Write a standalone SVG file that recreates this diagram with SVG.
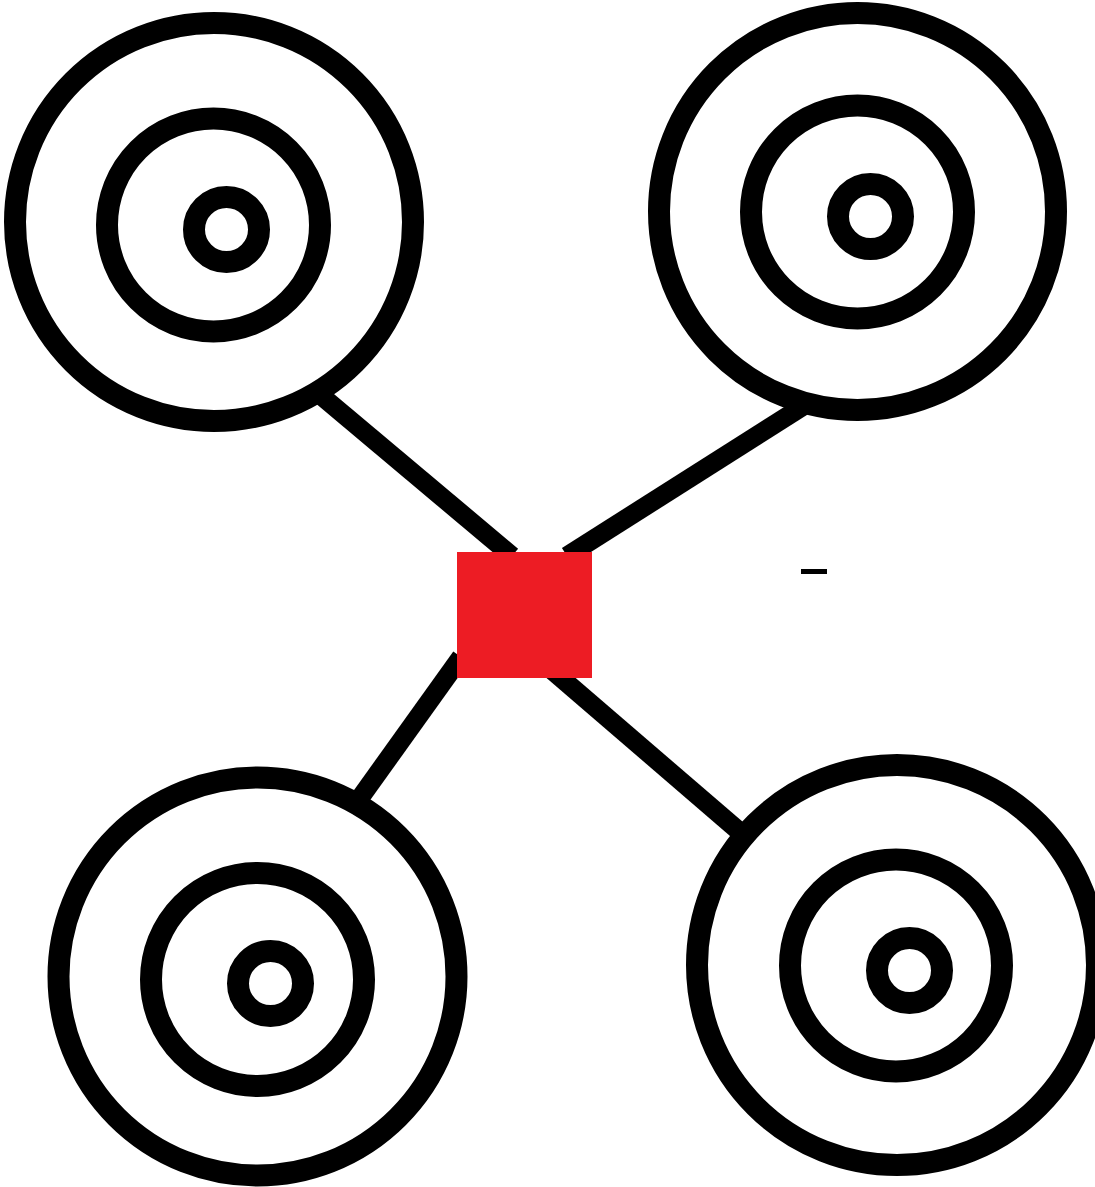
<svg xmlns="http://www.w3.org/2000/svg" width="1095" height="1187" viewBox="0 0 1095 1187">
  <style>
    .ring { fill: none; stroke: #000; stroke-width: 22; }
    .link { stroke: #000; stroke-width: 19; stroke-linecap: butt; fill: none; }
  </style>
  <rect x="0" y="0" width="1095" height="1187" fill="#fff"/>
  <g id="connectors">
    <line class="link" x1="318" y1="393" x2="512" y2="556"/>
    <line class="link" x1="805" y1="405" x2="567" y2="556"/>
    <line class="link" x1="461" y1="657" x2="360" y2="798"/>
    <line class="link" x1="546" y1="665" x2="740" y2="832"/>
  </g>
  <g id="node-top-left">
    <circle class="ring" cx="214" cy="222" r="199"/>
    <circle class="ring" cx="213.5" cy="225" r="106.5"/>
    <circle class="ring" cx="226.5" cy="229.5" r="32.5"/>
  </g>
  <g id="node-top-right">
    <circle class="ring" cx="857.5" cy="211.5" r="198.5"/>
    <circle class="ring" cx="857.5" cy="212" r="106.5"/>
    <circle class="ring" cx="870.5" cy="216.5" r="32.5"/>
  </g>
  <g id="node-bottom-left">
    <circle class="ring" cx="257.5" cy="976.5" r="199"/>
    <circle class="ring" cx="257.5" cy="979.5" r="106.5"/>
    <circle class="ring" cx="270.5" cy="983.5" r="32.5"/>
  </g>
  <g id="node-bottom-right">
    <circle class="ring" cx="897" cy="965" r="200"/>
    <circle class="ring" cx="896" cy="965.5" r="106"/>
    <circle class="ring" cx="909.5" cy="970.5" r="32.5"/>
  </g>
  <g id="node-center">
    <rect x="457" y="552" width="135" height="126" fill="#ed1c24"/>
  </g>
  <g id="dash">
    <rect x="801" y="569" width="26" height="5" fill="#000"/>
  </g>
</svg>
